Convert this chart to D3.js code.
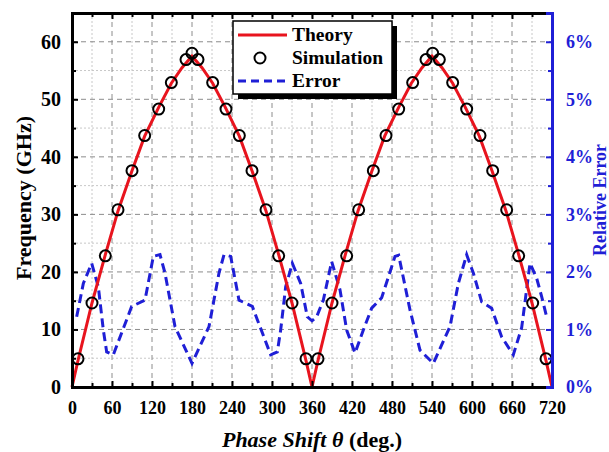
<!DOCTYPE html>
<html>
<head>
<meta charset="utf-8">
<script src="https://cdn.jsdelivr.net/npm/d3@7"></script>
<style>
  body { margin: 0; background: #fff; }
  svg { display: block; }
  text { font-family: "Liberation Serif", "Times New Roman", serif; font-weight: bold; }
</style>
</head>
<body>
<svg id="chart" width="609" height="452"></svg>
<script>
// Theory curve (GHz)
const theoryPhase = [0, 9, 30, 50, 69, 90, 109, 130, 149, 165, 180, 195, 211, 230, 251, 270, 291, 310, 330, 351, 360,
                     369, 390, 410, 429, 450, 469, 490, 509, 525, 540, 555, 571, 590, 611, 630, 651, 670, 690, 711, 720];
const theoryFreq  = [0, 4.6, 14.6, 23.0, 30.6, 37.6, 43.6, 48.6, 52.8, 55.5, 57.5, 55.5, 52.8, 48.6, 43.6, 37.6, 30.6, 23.0, 14.6, 4.6, 0,
                     4.6, 14.6, 23.0, 30.6, 37.6, 43.6, 48.6, 52.8, 55.5, 57.5, 55.5, 52.8, 48.6, 43.6, 37.6, 30.6, 23.0, 14.6, 4.6, 0];

// Simulation points (GHz)
const simPhase = [9, 30, 50, 69, 90, 109, 130, 149, 171, 180, 189, 211, 231, 251, 270, 291, 310, 330, 351,
                  369, 390, 412, 430, 452, 471, 490, 511, 531, 541, 551, 571, 592, 612, 631, 652, 670, 691, 711];
const simFreq  = [4.9, 14.6, 22.8, 30.8, 37.6, 43.7, 48.3, 52.9, 56.9, 58.0, 56.9, 52.9, 48.3, 43.7, 37.6, 30.8, 22.8, 14.6, 4.9,
                  4.9, 14.6, 22.8, 30.8, 37.6, 43.7, 48.3, 52.9, 56.9, 58.0, 56.9, 52.9, 48.3, 43.7, 37.6, 30.8, 22.8, 14.6, 4.9];

// Relative error (%)
const errPhase = [7, 17, 29.5, 39.5, 47, 52, 62, 82, 89.5, 109.5, 122, 132, 139.5, 154.5, 180, 205.5, 220.5, 228, 238, 250.5,
                  270.5, 278, 298, 308, 313, 320.5, 330.5, 343, 353, 360, 367, 377, 389.5, 402, 412, 424.5, 437, 449.5,
                  464.5, 484.5, 490, 507, 522, 542, 567, 579.5, 592, 602, 614.5, 629.5, 644.5, 662, 674.5, 687, 697, 704.5, 712];
const errValue = [1.22, 1.80, 2.15, 1.74, 0.99, 0.61, 0.56, 1.17, 1.40, 1.51, 2.27, 2.30, 1.98, 1.05, 0.41, 1.05, 1.98, 2.30, 2.27, 1.51,
                  1.40, 1.17, 0.56, 0.61, 0.99, 1.74, 2.15, 1.80, 1.22, 1.15, 1.22, 1.51, 2.18, 1.69, 0.99, 0.59, 0.99, 1.37,
                  1.55, 2.27, 2.29, 1.34, 0.64, 0.41, 1.05, 1.80, 2.30, 1.98, 1.48, 1.37, 0.87, 0.56, 1.03, 2.15, 1.89, 1.57, 1.22];

const xTicks = [0, 60, 120, 180, 240, 300, 360, 420, 480, 540, 600, 660, 720];
const xMinor = [30, 90, 150, 210, 270, 330, 390, 450, 510, 570, 630, 690];
const yTicks = [0, 10, 20, 30, 40, 50, 60];
const yMinor = [5, 15, 25, 35, 45, 55];
const errTicks = [0, 1, 2, 3, 4, 5, 6];
const errMinor = [0.5, 1.5, 2.5, 3.5, 4.5, 5.5];

const blue = '#1f1fd6';
const red = '#e8141e';
const plotLeft = 72, plotRight = 552, plotTop = 13, plotBottom = 387;

const svg = d3.select('#chart');

const x = d3.scaleLinear().domain([0, 720]).range([plotLeft, plotRight]);
const y = d3.scaleLinear().domain([0, 65]).range([plotBottom, plotTop]);
const yErr = d3.scaleLinear().domain([0, 6.5]).range([plotBottom, plotTop]);

// grid
const grid = svg.append('g');
grid.selectAll('.gxm').data(xMinor).enter().append('line')
    .attr('x1', d => x(d)).attr('x2', d => x(d)).attr('y1', plotTop).attr('y2', plotBottom)
    .attr('stroke', '#c8c8c8').attr('stroke-width', 1).attr('stroke-dasharray', '2,2');
grid.selectAll('.gym').data(yMinor).enter().append('line')
    .attr('x1', plotLeft).attr('x2', plotRight).attr('y1', d => y(d)).attr('y2', d => y(d))
    .attr('stroke', '#c8c8c8').attr('stroke-width', 1).attr('stroke-dasharray', '2,2');
grid.selectAll('.gx').data(xTicks.slice(1, -1)).enter().append('line')
    .attr('x1', d => x(d)).attr('x2', d => x(d)).attr('y1', plotTop).attr('y2', plotBottom)
    .attr('stroke', '#8c8c8c').attr('stroke-width', 1).attr('stroke-dasharray', '5,4');
grid.selectAll('.gy').data(yTicks.slice(1)).enter().append('line')
    .attr('x1', plotLeft).attr('x2', plotRight).attr('y1', d => y(d)).attr('y2', d => y(d))
    .attr('stroke', '#8c8c8c').attr('stroke-width', 1).attr('stroke-dasharray', '5,4');

// error line
svg.append('path')
    .datum(errPhase.map((p, i) => [p, errValue[i]]))
    .attr('fill', 'none')
    .attr('stroke', blue)
    .attr('stroke-width', 3)
    .attr('stroke-dasharray', '9,5')
    .attr('d', d3.line().x(d => x(d[0])).y(d => yErr(d[1])));

// theory line
svg.append('path')
    .datum(theoryPhase.map((p, i) => [p, theoryFreq[i]]))
    .attr('fill', 'none')
    .attr('stroke', red)
    .attr('stroke-width', 3)
    .attr('d', d3.line().x(d => x(d[0])).y(d => y(d[1])));

// simulation circles
svg.selectAll('circle.sim')
    .data(simPhase.map((p, i) => [p, simFreq[i]]))
    .enter().append('circle')
    .attr('class', 'sim')
    .attr('cx', d => x(d[0])).attr('cy', d => y(d[1])).attr('r', 5.5)
    .attr('fill', 'none').attr('stroke', '#000').attr('stroke-width', 2);

// axes
const bottomAxis = svg.append('g').attr('transform', `translate(0,${plotBottom})`)
    .call(d3.axisBottom(x).tickValues(xTicks).tickSize(-6).tickPadding(14).tickFormat(d3.format('d')));
bottomAxis.append('g').call(d3.axisBottom(x).tickValues(xMinor).tickSize(-4).tickFormat(''));

const topAxis = svg.append('g').attr('transform', `translate(0,${plotTop})`)
    .call(d3.axisTop(x).tickValues(xTicks).tickSize(-6).tickFormat(''));
topAxis.append('g').call(d3.axisTop(x).tickValues(xMinor).tickSize(-4).tickFormat(''));

const leftAxis = svg.append('g').attr('transform', `translate(${plotLeft},0)`)
    .call(d3.axisLeft(y).tickValues(yTicks).tickSize(-6).tickPadding(11).tickFormat(d3.format('d')));
leftAxis.append('g').call(d3.axisLeft(y).tickValues(yMinor).tickSize(-4).tickFormat(''));

const rightAxis = svg.append('g').attr('transform', `translate(${plotRight},0)`)
    .call(d3.axisRight(yErr).tickValues(errTicks).tickSize(-6).tickPadding(14).tickFormat(d => d + '%'));
rightAxis.append('g').call(d3.axisRight(yErr).tickValues(errMinor).tickSize(-4).tickFormat(''));

[bottomAxis, topAxis, leftAxis].forEach(a => {
    a.selectAll('.domain').attr('stroke', '#000').attr('stroke-width', 3);
    a.selectAll('.tick line').attr('stroke', '#000').attr('stroke-width', 2);
});
rightAxis.selectAll('.domain').attr('stroke', blue).attr('stroke-width', 3);
rightAxis.selectAll('.tick line').attr('stroke', blue).attr('stroke-width', 2);

bottomAxis.selectAll('.tick text').attr('font-size', 18).attr('fill', '#000')
    .attr('font-family', '"Liberation Serif", serif').attr('font-weight', 'bold');
leftAxis.selectAll('.tick text').attr('font-size', 20).attr('fill', '#000')
    .attr('font-family', '"Liberation Serif", serif').attr('font-weight', 'bold');
rightAxis.selectAll('.tick text').attr('font-size', 18).attr('fill', blue)
    .attr('font-family', '"Liberation Serif", serif').attr('font-weight', 'bold');

// axis titles
const xTitle = svg.append('text').attr('x', 312).attr('y', 447).attr('text-anchor', 'middle')
    .attr('font-size', 22).attr('fill', '#000');
xTitle.append('tspan').attr('font-style', 'italic').text('Phase Shift θ');
xTitle.append('tspan').text(' (deg.)');

svg.append('text').attr('transform', 'translate(31,198) rotate(-90)')
    .attr('text-anchor', 'middle').attr('font-size', 22).attr('fill', '#000')
    .text('Frequency (GHz)');

svg.append('text').attr('transform', 'translate(606,200) rotate(-90)')
    .attr('text-anchor', 'middle').attr('font-size', 18).attr('fill', blue)
    .text('Relative Error');

// legend
const lg = svg.append('g');
lg.append('rect').attr('x', 238).attr('y', 26).attr('width', 159).attr('height', 73).attr('fill', '#000');
lg.append('rect').attr('x', 233).attr('y', 21).attr('width', 159).attr('height', 73)
    .attr('fill', '#fff').attr('stroke', '#000').attr('stroke-width', 1.5);

lg.append('line').attr('x1', 238).attr('x2', 287).attr('y1', 35).attr('y2', 35)
    .attr('stroke', red).attr('stroke-width', 3);
lg.append('circle').attr('cx', 260).attr('cy', 58).attr('r', 5.5)
    .attr('fill', 'none').attr('stroke', '#000').attr('stroke-width', 2);
lg.append('line').attr('x1', 238).attr('x2', 287).attr('y1', 81).attr('y2', 81)
    .attr('stroke', blue).attr('stroke-width', 3).attr('stroke-dasharray', '8,5');

const legendText = ['Theory', 'Simulation', 'Error'];
lg.selectAll('text.lg').data(legendText).enter().append('text')
    .attr('class', 'lg')
    .attr('x', 292).attr('y', (d, i) => 41 + i * 23)
    .attr('font-size', 19.5).attr('fill', '#000')
    .text(d => d);
</script>
</body>
</html>
